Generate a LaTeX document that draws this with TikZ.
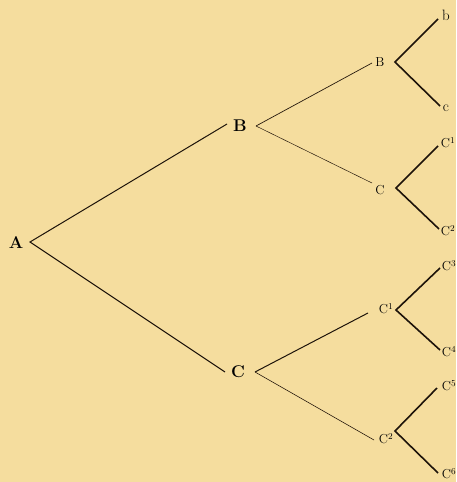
\documentclass[tikz,border=0pt]{standalone}
\begin{document}
\begin{tikzpicture}[x=1pt,y=-1pt,
  big/.style={font=\fontsize{17}{17}\selectfont\bfseries, inner sep=0pt},
  mid/.style={font=\fontsize{13}{13}\selectfont, inner sep=0pt},
  leaf/.style={font=\fontsize{15}{15}\selectfont, inner sep=0pt},
  thinA/.style={line width=1.0pt, draw=black!85!brown},
  thinB/.style={line width=0.7pt, draw=black!80!brown},
  thick/.style={line width=1.6pt, draw=black!85!brown}]
\definecolor{paper}{RGB}{245,221,158}
\fill[paper] (0,0) rectangle (456,482);
\useasboundingbox (0,0) rectangle (456,482);
% labels
\node[big] (A) at (16,243) {A};
\node[big] (B) at (240,126) {B};
\node[big] (C) at (238,372) {C};
\node[mid] (B1) at (380,62) {B};
\node[mid] (C0) at (380,190) {C};
\node[mid] (C1) at (386,309) {C$^{1}$};
\node[mid] (C2) at (386,439) {C$^{2}$};
\node[leaf] (lb) at (446,15) {b};
\node[leaf] (lc) at (446,108) {c};
\node[mid] (l1) at (448,143) {C$^{1}$};
\node[mid] (l2) at (448,231) {C$^{2}$};
\node[mid] (l3) at (449,266) {C$^{3}$};
\node[mid] (l4) at (449,352) {C$^{4}$};
\node[mid] (l5) at (449,386) {C$^{5}$};
\node[mid] (l6) at (449,474) {C$^{6}$};
% vertices and ends
\coordinate (vA) at (30,242);
\coordinate (vB) at (256,126);
\coordinate (vC) at (255,372);
\coordinate (eB) at (227,124);
\coordinate (eC) at (225,372);
\coordinate (eB1) at (372,63);
\coordinate (eC0) at (372,183);
\coordinate (eC1) at (368,313);
\coordinate (eC2) at (374,440);
\coordinate (vB1) at (395,62);
\coordinate (vC0) at (396,188);
\coordinate (vC1) at (396,310);
\coordinate (vC2) at (395,431);
\coordinate (eb) at (438,19);
\coordinate (ec) at (440,106);
\coordinate (e1) at (438,146);
\coordinate (e2) at (439,229);
\coordinate (e3) at (440,268);
\coordinate (e4) at (440,350);
\coordinate (e5) at (437,388);
\coordinate (e6) at (438,473);
% connectors
\draw[thinA] (eB) -- (vA) -- (eC);
\draw[thinB] (vB) -- (eB1);
\draw[thinB, line width=0.5pt] (vB) -- (eC0);
\draw[thinA] (vC) -- (eC1);
\draw[thinB, line width=0.6pt] (vC) -- (eC2);
\draw[thick] (eb) -- (vB1) -- (ec);
\draw[thick] (e1) -- (vC0) -- (e2);
\draw[thick] (e3) -- (vC1) -- (e4);
\draw[thick] (e5) -- (vC2) -- (e6);
\end{tikzpicture}
\end{document}
